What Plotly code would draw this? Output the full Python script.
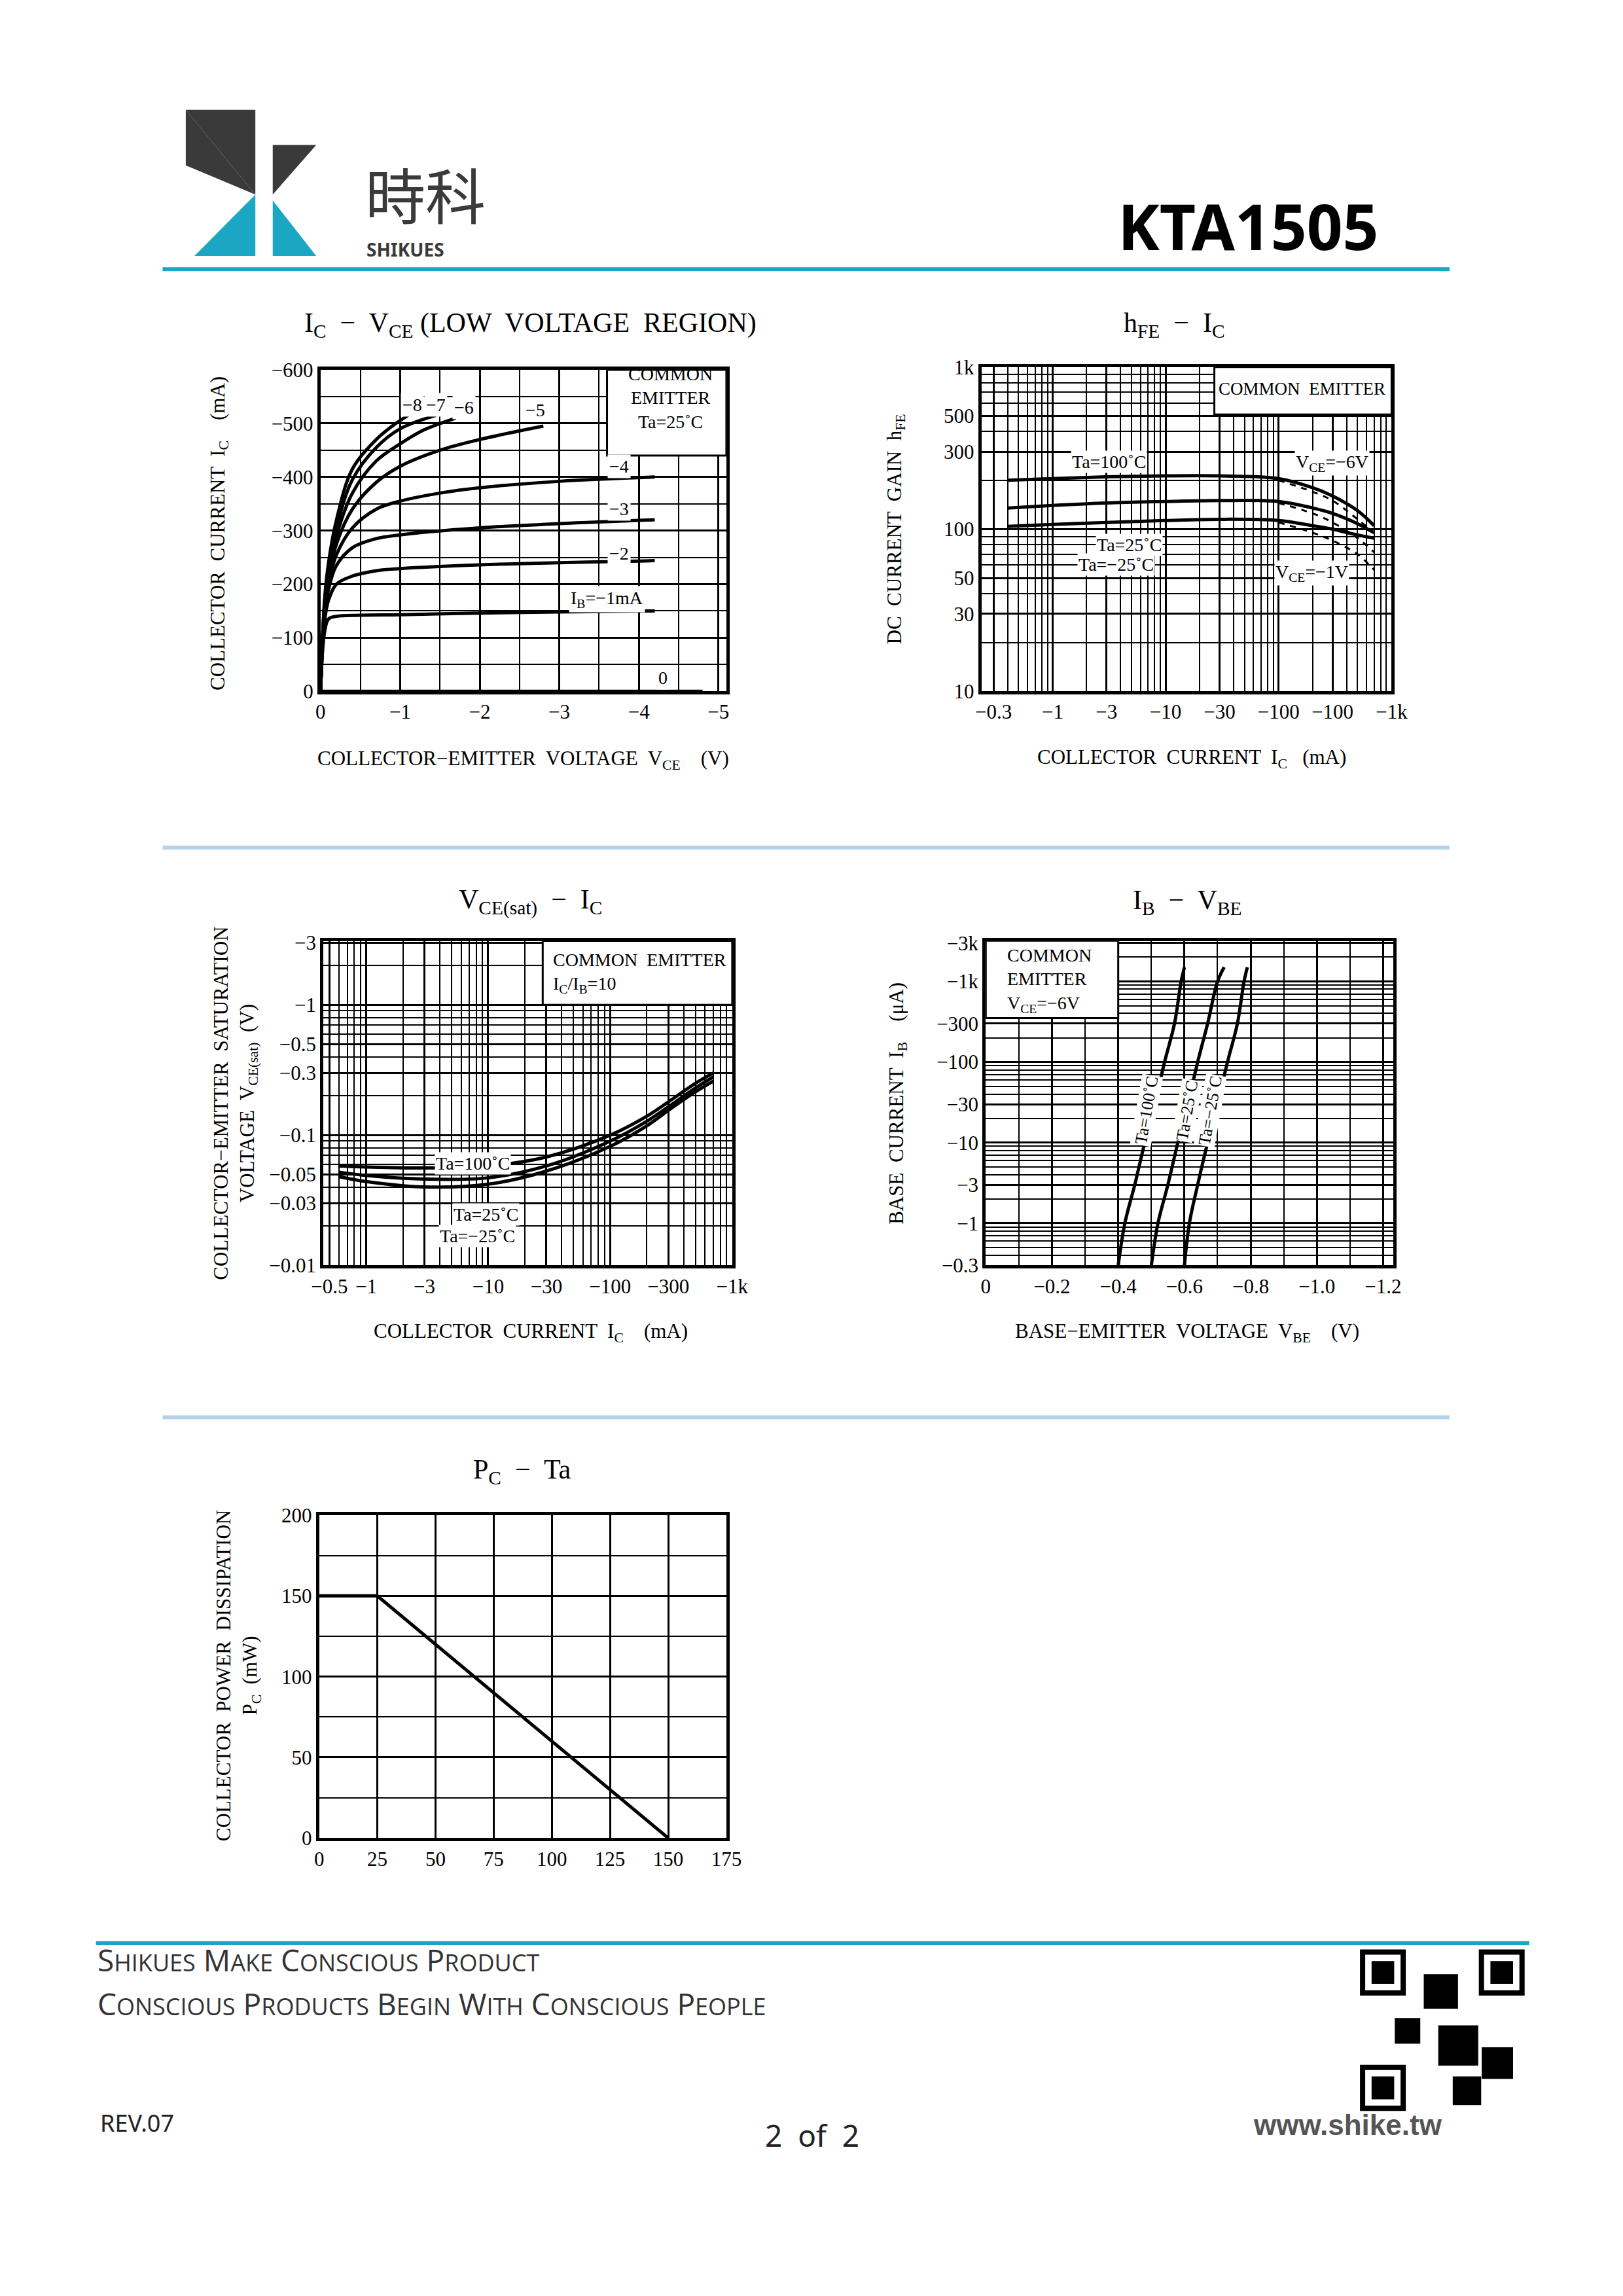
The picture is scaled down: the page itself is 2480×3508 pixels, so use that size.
import plotly.graph_objects as go

W, H = 2480, 3508
FONT = "Liberation Serif"

# ---- Ic - Vce (low voltage region) ----
vce_curves = [
    [0, -0.05, -0.1, -0.2, -0.5, -1, -2, -3, -4, -4.2],
    [0, -0.05, -0.1, -0.2, -0.4, -0.7, -1, -2, -3, -4, -4.2],
    [0, -0.05, -0.1, -0.2, -0.4, -0.7, -1, -2, -3, -4.2],
    [0, -0.05, -0.1, -0.2, -0.4, -0.7, -1, -1.5, -2, -3, -4.2],
    [0, -0.05, -0.1, -0.2, -0.4, -0.7, -1, -1.5, -2, -2.8],
    [0, -0.05, -0.1, -0.2, -0.4, -0.7, -1, -1.3, -1.7],
    [0, -0.05, -0.1, -0.2, -0.4, -0.7, -1, -1.45],
    [0, -0.05, -0.1, -0.2, -0.4, -0.7, -0.9, -1.1],
]
ic_curves = [
    [0, -110, -135, -140, -142, -143, -146, -148, -150, -150],
    [0, -130, -170, -200, -215, -225, -229, -236, -240, -243, -244],
    [0, -140, -190, -235, -268, -285, -292, -305, -313, -320],
    [0, -150, -200, -255, -305, -340, -355, -370, -380, -392, -400],
    [0, -155, -210, -275, -340, -390, -420, -450, -470, -495],
    [0, -160, -220, -290, -370, -430, -462, -488, -510],
    [0, -165, -230, -305, -395, -455, -490, -515],
    [0, -170, -240, -320, -415, -470, -495, -515],
]

# ---- hFE - Ic ----
hfe_ic = [0.4, 1, 3, 10, 30, 100, 200, 300, 500, 700]
hfe_100 = [200, 205, 210, 213, 213, 205, 180, 160, 130, 105]
hfe_25 = [135, 140, 145, 148, 150, 148, 135, 125, 108, 95]
hfe_m25 = [104, 107, 110, 113, 115, 113, 105, 100, 92, 88]
hfe_ic1 = [100, 200, 300, 500, 700]
hfe1_100 = [200, 170, 150, 115, 95]
hfe1_25 = [145, 125, 110, 88, 72]
hfe1_m25 = [110, 95, 85, 70, 56]

# ---- Vce(sat) - Ic ----
sat_ic = [0.6, 1, 3, 10, 30, 100, 200, 300, 500, 700]
sat_100 = [0.058, 0.057, 0.056, 0.058, 0.068, 0.1, 0.14, 0.18, 0.25, 0.3]
sat_25 = [0.052, 0.049, 0.046, 0.047, 0.058, 0.09, 0.128, 0.165, 0.23, 0.28]
sat_m25 = [0.048, 0.044, 0.040, 0.042, 0.053, 0.082, 0.118, 0.155, 0.215, 0.26]

# ---- Ib - Vbe ----
ib_ua = [0.3, 1, 3, 10, 30, 100, 300, 1000, 1500]
vbe_100 = [-0.40, -0.42, -0.45, -0.48, -0.51, -0.54, -0.57, -0.59, -0.60]
vbe_25 = [-0.50, -0.52, -0.55, -0.58, -0.61, -0.64, -0.67, -0.70, -0.72]
vbe_m25 = [-0.60, -0.615, -0.64, -0.67, -0.70, -0.73, -0.76, -0.78, -0.79]

# ---- Pc - Ta ----
ta = [0, 25, 150]
pc = [150, 150, 0]

OFF = 8  # page offset seen in the render, in reference display px


def px(x):
    return (x - OFF) / 1100


def py(y):
    return 1 - (y - OFF) / 1556


def axis(dom, **kw):
    d = dict(domain=dom, showline=True, linecolor="black", linewidth=5, mirror=True,
             showgrid=True, gridcolor="black", gridwidth=3, zeroline=False,
             ticks="", tickfont=dict(family=FONT, size=31, color="black"))
    d.update(kw)
    return d


fig = go.Figure()
line = dict(color="black", width=5)


def add(x, y, n, dash=None, shape="spline"):
    l = dict(line)
    if dash:
        l["dash"] = dash
        l["width"] = 3
    fig.add_trace(go.Scatter(x=x, y=y, mode="lines", line=l, line_shape=shape,
                             xaxis="x" + n, yaxis="y" + n, showlegend=False,
                             hoverinfo="skip"))


for v, i in zip(vce_curves, ic_curves):
    add(v, i, "")
add([0, -4.8], [0, 0], "")
for a, b in [(hfe_100, hfe1_100), (hfe_25, hfe1_25), (hfe_m25, hfe1_m25)]:
    add(hfe_ic, a, "2")
    add(hfe_ic1, b, "2", dash="dash")
for s in [sat_100, sat_25, sat_m25]:
    add(sat_ic, s, "3")
for v in [vbe_100, vbe_25, vbe_m25]:
    add(v, ib_ua, "4")
add(ta, pc, "5", shape="linear")

xa1, ya1 = [px(217), px(497)], [py(470), py(250)]
xa2, ya2 = [px(673), px(956)], [py(470), py(248)]
xa3, ya3 = [px(219), px(501)], [py(863), py(641)]
xa4, ya4 = [px(676), px(957)], [py(863), py(641)]
xa5, ya5 = [px(216), px(497)], [py(1255), py(1034)]

lg = dict(showgrid=True, gridcolor="black", gridwidth=1.5)
lgl = dict(dtick="D1", **lg)
fig.update_layout(
    width=W, height=H, paper_bgcolor="white", plot_bgcolor="white",
    margin=dict(l=0, r=0, t=0, b=0),
    xaxis=axis(xa1, range=[0, -5.1], tickvals=[0, -1, -2, -3, -4, -5],
               ticktext=["0", "−1", "−2", "−3", "−4", "−5"], minor=dict(dtick=0.5, **lg)),
    yaxis=axis(ya1, range=[0, -600], tickvals=[0, -100, -200, -300, -400, -500, -600],
               ticktext=["0", "−100", "−200", "−300", "−400", "−500", "−600"],
               minor=dict(dtick=50, **lg)),
    xaxis2=axis(xa2, type="log", range=[-0.63, 3], anchor="y2",
                tickvals=[0.3, 1, 3, 10, 30, 100, 300, 1000],
                ticktext=["−0.3", "−1", "−3", "−10", "−30", "−100", "−100", "−1k"],
                minor=lgl),
    yaxis2=axis(ya2, type="log", range=[1, 3], anchor="x2",
                tickvals=[10, 30, 50, 100, 300, 500, 1000],
                ticktext=["10", "30", "50", "100", "300", "500", "1k"], minor=lgl),
    xaxis3=axis(xa3, type="log", range=[-0.35, 3], anchor="y3",
                tickvals=[0.5, 1, 3, 10, 30, 100, 300, 1000],
                ticktext=["−0.5", "−1", "−3", "−10", "−30", "−100", "−300", "−1k"],
                minor=lgl),
    yaxis3=axis(ya3, type="log", range=[-2, 0.49], anchor="x3",
                tickvals=[0.01, 0.03, 0.05, 0.1, 0.3, 0.5, 1, 3],
                ticktext=["−0.01", "−0.03", "−0.05", "−0.1", "−0.3", "−0.5", "−1", "−3"],
                minor=lgl),
    xaxis4=axis(xa4, range=[0, -1.23], anchor="y4",
                tickvals=[0, -0.2, -0.4, -0.6, -0.8, -1.0, -1.2],
                ticktext=["0", "−0.2", "−0.4", "−0.6", "−0.8", "−1.0", "−1.2"],
                minor=dict(dtick=0.1, **lg)),
    yaxis4=axis(ya4, type="log", range=[-0.523, 3.5], anchor="x4",
                tickvals=[0.3, 1, 3, 10, 30, 100, 300, 1000, 3000],
                ticktext=["−0.3", "−1", "−3", "−10", "−30", "−100", "−300", "−1k", "−3k"],
                minor=lgl),
    xaxis5=axis(xa5, range=[0, 175], anchor="y5", dtick=25),
    yaxis5=axis(ya5, range=[0, 200], anchor="x5", dtick=50, minor=dict(dtick=25, **lg)),
)


def txt(x, y, s, size=32, ref="paper", xa="center", ya="middle", angle=0, **kw):
    a = dict(x=x, y=y, text=s, showarrow=False, xanchor=xa, yanchor=ya, textangle=angle,
             font=dict(family=FONT, size=size, color="black"))
    if ref == "paper":
        a.update(xref="paper", yref="paper")
    else:
        a.update(xref="x" + ref, yref="y" + ref)
    a.update(kw)
    fig.add_annotation(**a)


box = dict(bgcolor="white", borderpad=2)

# plot 1 text
txt(px(362), py(219), "I<sub>C</sub>  −  V<sub>CE</sub> (LOW  VOLTAGE  REGION)", 42)
txt(px(147), py(362), "COLLECTOR  CURRENT  I<sub>C</sub>    (mA)", 31, angle=-90)
txt(px(357), py(517), "COLLECTOR−EMITTER  VOLTAGE  V<sub>CE</sub>    (V)", 31)
txt(-4.4, -548, "COMMON<br>EMITTER<br>Ta=25˚C", 28, ref="")
for s, x, y in [("−8", -1.15, -535), ("−7", -1.45, -535), ("−6", -1.8, -530),
                ("−5", -2.7, -525), ("−4", -3.75, -420), ("−3", -3.75, -340),
                ("−2", -3.75, -258), ("I<sub>B</sub>=−1mA", -3.6, -172), ("0", -4.3, -25)]:
    txt(x, y, s, 28, ref="", **box)

# plot 2 text
txt(px(806), py(219), "h<sub>FE</sub>  −  I<sub>C</sub>", 42)
txt(px(614), py(359), "DC  CURRENT  GAIN  h<sub>FE</sub>", 31, angle=-90)
txt(px(818), py(516), "COLLECTOR  CURRENT  I<sub>C</sub>   (mA)", 31)
txt(px(894), py(263), "COMMON  EMITTER", 27)
txt(px(761), py(313), "Ta=100˚C", 28, bgcolor="white")
txt(px(775), py(370), "Ta=25˚C", 28, bgcolor="white")
txt(px(766), py(383), "Ta=−25˚C", 28, bgcolor="white")
txt(px(915), py(314), "V<sub>CE</sub>=−6V", 28, bgcolor="white")
txt(px(901), py(389), "V<sub>CE</sub>=−1V", 28, bgcolor="white")

# plot 3 text
txt(px(362), py(614), "V<sub>CE(sat)</sub>  −  I<sub>C</sub>", 42)
txt(px(158), py(752), "COLLECTOR−EMITTER  SATURATION<br>VOLTAGE  V<sub>CE(sat)</sub>  (V)",
    31, angle=-90)
txt(px(362), py(909), "COLLECTOR  CURRENT  I<sub>C</sub>    (mA)", 31)
txt(px(437), py(663), "COMMON  EMITTER<br>I<sub>C</sub>/I<sub>B</sub>=10", 28, align="left")
txt(px(322), py(793), "Ta=100˚C", 28, bgcolor="white")
txt(px(331), py(828), "Ta=25˚C", 28, bgcolor="white")
txt(px(325), py(843), "Ta=−25˚C", 28, bgcolor="white")

# plot 4 text
txt(px(815), py(614), "I<sub>B</sub>  −  V<sub>BE</sub>", 42)
txt(px(615), py(752), "BASE  CURRENT  I<sub>B</sub>    (μA)", 31, angle=-90)
txt(px(815), py(909), "BASE−EMITTER  VOLTAGE  V<sub>BE</sub>    (V)", 31)
txt(px(720), py(668), "COMMON<br>EMITTER<br>V<sub>CE</sub>=−6V", 28, align="left")
txt(px(787), py(757), "Ta=100˚C", 26, angle=-80, bgcolor="white")
txt(px(815), py(757), "Ta=25˚C", 26, angle=-80, bgcolor="white")
txt(px(831), py(757), "Ta=−25˚C", 26, angle=-80, bgcolor="white")

# plot 5 text
txt(px(356), py(1004), "P<sub>C</sub>  −  Ta", 42)
txt(px(160), py(1144), "COLLECTOR  POWER  DISSIPATION<br>P<sub>C</sub>  (mW)", 31, angle=-90)


def tri(a, b, c, col):
    return dict(type="path", xref="paper", yref="paper",
                path="M %f %f L %f %f L %f %f Z" % (px(a[0]), py(a[1]), px(b[0]), py(b[1]), px(c[0]), py(c[1])),
                fillcolor=col, line=dict(width=0))


def hline(x0, x1, y, col):
    return dict(type="line", xref="paper", yref="paper", x0=px(x0), x1=px(x1), y0=py(y), y1=py(y),
                line=dict(color=col, width=6))


def blank(n, x0, x1, y0, y1):
    # white note boxes that hide the grid (drawn between grid and curves)
    return dict(type="rect", xref="x" + n, yref="y" + n, x0=x0, x1=x1, y0=y0, y1=y1,
                fillcolor="white", line=dict(color="black", width=3), layer="between")


def sq(x0, y0, s, fill):
    return dict(type="rect", xref="paper", yref="paper", x0=px(x0), x1=px(x0 + s),
                y0=py(y0 + s), y1=py(y0), fillcolor=fill, line=dict(color="black", width=8))


DARK, CYAN = "#3a3a3a", "#1ba6c4"
shapes = [
    hline(108, 996, 181, CYAN), hline(108, 996, 577, "#b4d3e8"),
    hline(108, 996, 967, "#b4d3e8"), hline(62, 1051, 1327, CYAN),
    tri((124, 72), (172, 72), (172, 130), DARK),
    tri((124, 72), (124, 110), (172, 130), DARK),
    tri((130, 172), (172, 130), (172, 172), CYAN),
    tri((184, 96), (214, 96), (184, 130), DARK),
    tri((184, 134), (214, 172), (184, 172), CYAN),
    blank("", -3.6, -5.1, -440, -600),
    blank("2", 27, 1000, 510, 1000),
    blank("3", 28, 1000, 1.0, 3.1),
    blank("4", 0, -0.4, 350, 3200),
    sq(936, 1333, 28, "white"), sq(1018, 1333, 28, "white"), sq(936, 1412, 28, "white"),
    sq(944, 1341, 12, "black"), sq(1026, 1341, 12, "black"), sq(944, 1420, 12, "black"),
    sq(980, 1350, 20, "black"), sq(990, 1385, 24, "black"), sq(1020, 1400, 18, "black"),
    sq(960, 1380, 14, "black"), sq(1000, 1420, 16, "black"),
]
fig.update_layout(shapes=shapes)
fig.add_annotation(x=px(247), y=py(98), text="時科", showarrow=False, xref="paper", yref="paper",
                   xanchor="left", font=dict(family="Noto Sans CJK SC", size=92, color=DARK))
fig.add_annotation(x=px(248), y=py(158), text="<b>SHIKUES</b>", showarrow=False, xref="paper", yref="paper",
                   xanchor="left", font=dict(family="Noto Sans", size=28, color=DARK))
fig.add_annotation(x=px(948), y=py(121), text="<b>KTA1505</b>", showarrow=False, xref="paper",
                   yref="paper", xanchor="right", font=dict(family="Noto Sans", size=96, color="black"))
sc = "<span style='font-size:36px'>%s</span>"
fig.add_annotation(x=px(62), y=py(1353),
                   text="S%s M%s C%s P%s" % (sc % "HIKUES", sc % "AKE", sc % "ONSCIOUS", sc % "RODUCT"),
                   showarrow=False, xref="paper", yref="paper", xanchor="left",
                   font=dict(family="Open Sans", size=46, color="#333"))
fig.add_annotation(x=px(62), y=py(1383),
                   text="C%s P%s B%s W%s C%s P%s" % (sc % "ONSCIOUS", sc % "RODUCTS", sc % "EGIN",
                                                      sc % "ITH", sc % "ONSCIOUS", sc % "EOPLE"),
                   showarrow=False, xref="paper", yref="paper", xanchor="left",
                   font=dict(family="Open Sans", size=46, color="#333"))
fig.add_annotation(x=px(64), y=py(1462), text="REV.07", showarrow=False, xref="paper", yref="paper",
                   xanchor="left", font=dict(family="Noto Sans", size=36, color="#222"))
fig.add_annotation(x=px(556), y=py(1473), text="2  of  2", showarrow=False, xref="paper", yref="paper",
                   font=dict(family="Noto Sans", size=46, color="#222"))
fig.add_annotation(x=px(992), y=py(1463), text="<b>www.shike.tw</b>", showarrow=False, xref="paper",
                   yref="paper", font=dict(family="Liberation Sans", size=44, color="#555"))

fig.write_html("out.html")
